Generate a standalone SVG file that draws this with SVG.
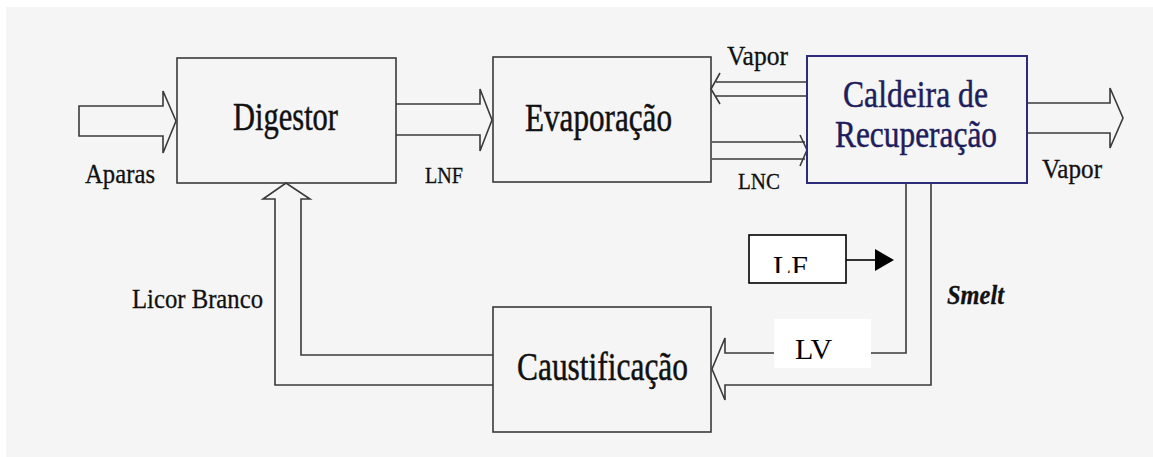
<svg xmlns="http://www.w3.org/2000/svg" width="1153" height="457" viewBox="0 0 1153 457">
<style>
.box{fill:none;stroke:#3a3a3a;stroke-width:1.6}
.blue{fill:none;stroke:#2c2c78;stroke-width:2}
.ln{fill:none;stroke:#3a3a3a;stroke-width:1.6;stroke-linejoin:miter}
text{font-family:"Liberation Serif","Times New Roman","DejaVu Serif",serif}
.big{font-size:40px;fill:#111;stroke:#111;stroke-width:0.5}
.cal{font-size:38px;fill:#1e1e5c;stroke:#1e1e5c;stroke-width:0.5}
.lab{font-size:28px;fill:#111;stroke:#111;stroke-width:0.3}
.sm{font-size:23px;fill:#111;stroke:#111;stroke-width:0.3}
.tag{font-size:30px;fill:#000}
</style>
<defs>
<clipPath id="lfclip"><rect x="749" y="235" width="97" height="38"/></clipPath>
</defs>
<rect x="0" y="0" width="1153" height="457" fill="#ffffff"/>
<rect x="6" y="7" width="1147" height="450" fill="#f5f5f5"/>

<g id="connectors">
<path class="ln" d="M163,106 H79 V136 H163 V153 L176,121 L163,91 Z"/>
<path class="ln" d="M396,104 H480 V89 L492,120 L480,151 V135 H396"/>
<path class="ln" d="M807,82 H716 M807,96 H716 M720,73 L711,89 L720,104"/>
<path class="ln" d="M712,142 H805 M712,159 H805 M800,135 L807,150 L800,166"/>
<path class="ln" d="M1027,103 H1110 V88 L1123,118 L1110,148 V133 H1027"/>
<path class="ln" d="M906,183 V353 H725 V338 L712,369 L725,400 V385 H931 V183"/>
<path class="ln" d="M493,385 H275 V199 H263 L286,183 L310,199 H301 V355 H493"/>
<line x1="846" y1="260" x2="876" y2="260" stroke="#000" stroke-width="1.6"/>
<polygon points="875,249 894,260 875,271" fill="#000"/>
</g>

<g id="digestor">
<rect class="box" x="177" y="58" width="219" height="125"/>
<text class="big" x="233" y="130" textLength="105" lengthAdjust="spacingAndGlyphs">Digestor</text>
</g>
<g id="evaporacao">
<rect class="box" x="493" y="57" width="218" height="125"/>
<text class="big" x="525" y="131" textLength="147" lengthAdjust="spacingAndGlyphs">Evaporação</text>
</g>
<g id="caldeira">
<rect class="blue" x="807" y="56" width="220" height="127"/>
<text class="cal" x="843" y="107" textLength="145" lengthAdjust="spacingAndGlyphs">Caldeira de</text>
<text class="cal" x="835" y="147" textLength="162" lengthAdjust="spacingAndGlyphs">Recuperação</text>
</g>
<g id="caustificacao">
<rect class="box" x="493" y="307" width="218" height="125"/>
<text class="big" x="517" y="380" textLength="171" lengthAdjust="spacingAndGlyphs">Caustificação</text>
</g>
<g id="lf">
<rect x="749" y="235" width="97" height="48" fill="#fff" stroke="#000" stroke-width="1.6"/>
<text class="tag" x="773" y="276" clip-path="url(#lfclip)">LF</text>
</g>
<g id="lv">
<rect x="774" y="319" width="97" height="49" fill="#fff"/>
<text class="tag" x="795" y="359">LV</text>
</g>

<g id="labels">
<text class="lab" x="85" y="183" textLength="70" lengthAdjust="spacingAndGlyphs">Aparas</text>
<text class="sm" x="425" y="183" textLength="38" lengthAdjust="spacingAndGlyphs">LNF</text>
<text class="lab" x="727" y="65" textLength="61" lengthAdjust="spacingAndGlyphs">Vapor</text>
<text class="sm" x="738" y="189" textLength="42" lengthAdjust="spacingAndGlyphs">LNC</text>
<text class="lab" x="1042" y="178" textLength="60" lengthAdjust="spacingAndGlyphs">Vapor</text>
<text class="lab" x="132" y="308" textLength="131" lengthAdjust="spacingAndGlyphs">Licor Branco</text>
<text class="lab" x="947" y="304" font-style="italic" font-weight="bold" textLength="57" lengthAdjust="spacingAndGlyphs">Smelt</text>
</g>
</svg>
